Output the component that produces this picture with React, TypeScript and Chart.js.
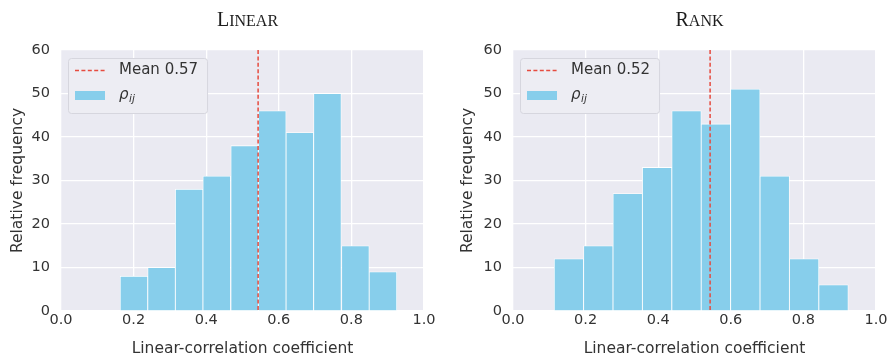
import React, { useEffect, useRef } from "react";
import { Chart, registerables } from "chart.js";

Chart.register(...registerables);

// ---- data ----
const linearBinCenters = [0.201, 0.277, 0.353, 0.429, 0.506, 0.582, 0.658, 0.734, 0.811, 0.887];
const linearCounts = [8, 10, 28, 31, 38, 46, 41, 50, 15, 9];
const linearMeanPosition = 0.543;
const linearMeanLabel = "Mean 0.57";
const linearTitle = "Linear";

const rankBinCenters = [0.154, 0.235, 0.316, 0.397, 0.478, 0.559, 0.64, 0.721, 0.802, 0.883];
const rankCounts = [12, 15, 27, 33, 46, 43, 51, 31, 12, 6];
const rankMeanPosition = 0.543;
const rankMeanLabel = "Mean 0.52";
const rankTitle = "Rank";

const xTickValues = [0, 0.2, 0.4, 0.6, 0.8, 1.0];
const yTickValues = [0, 10, 20, 30, 40, 50, 60];
const xAxisLabel = "Linear-correlation coefficient";
const yAxisLabel = "Relative frequency";
const seriesSymbol = "ρ";
const seriesSubscript = "ij";

// ---- styles ----
const BAR_COLOR = "#87CEEB";
const MEAN_COLOR = "#E64B3F";
const BG = "#EAEAF2";
const TEXT = "#333333";
const SANS = '"DejaVu Sans", sans-serif';
const SERIF = '"Liberation Serif", serif';

function drawSmallCaps(ctx: CanvasRenderingContext2D, text: string, cx: number, baseline: number) {
  const first = text.charAt(0).toUpperCase();
  const rest = text.slice(1).toUpperCase();
  const bigFont = `20px ${SERIF}`;
  const smallFont = `16px ${SERIF}`;
  ctx.font = bigFont;
  const w1 = ctx.measureText(first).width;
  ctx.font = smallFont;
  const w2 = ctx.measureText(rest).width;
  const x0 = cx - (w1 + w2) / 2;
  ctx.fillStyle = "#1c1c1c";
  ctx.textBaseline = "alphabetic";
  ctx.textAlign = "left";
  ctx.font = bigFont;
  ctx.fillText(first, x0, baseline);
  ctx.font = smallFont;
  ctx.fillText(rest, x0 + w1, baseline);
}

function makePlugin(title: string, meanPos: number, meanLabel: string) {
  return {
    id: "histDecor",
    beforeDraw(chart: any) {
      const { ctx, chartArea: a } = chart;
      ctx.save();
      ctx.fillStyle = BG;
      ctx.fillRect(a.left, a.top, a.right - a.left, a.bottom - a.top);
      ctx.restore();
    },
    afterDatasetsDraw(chart: any) {
      const { ctx, chartArea: a } = chart;
      const xs = chart.scales.x;
      const mx = xs.getPixelForValue(meanPos);
      ctx.save();
      // mean line
      ctx.strokeStyle = MEAN_COLOR;
      ctx.lineWidth = 1.5;
      ctx.setLineDash([4, 2.4]);
      ctx.beginPath();
      ctx.moveTo(mx, a.top);
      ctx.lineTo(mx, a.bottom);
      ctx.stroke();
      ctx.setLineDash([]);

      // legend
      const x0 = a.left + 7;
      const y0 = a.top + 8;
      ctx.font = `15px ${SANS}`;
      const tw = ctx.measureText(meanLabel).width;
      const w = 51 + tw + 9;
      const h = 55;
      ctx.beginPath();
      (ctx as any).roundRect(x0 + 0.5, y0 + 0.5, w, h, 3);
      ctx.fillStyle = "#EDEDF3";
      ctx.fill();
      ctx.strokeStyle = "#D6D6DE";
      ctx.lineWidth = 1;
      ctx.stroke();

      ctx.strokeStyle = MEAN_COLOR;
      ctx.lineWidth = 1.5;
      ctx.setLineDash([4, 2.4]);
      ctx.beginPath();
      ctx.moveTo(x0 + 7, y0 + 12.5);
      ctx.lineTo(x0 + 37, y0 + 12.5);
      ctx.stroke();
      ctx.setLineDash([]);

      ctx.fillStyle = TEXT;
      ctx.textAlign = "left";
      ctx.textBaseline = "middle";
      ctx.fillText(meanLabel, x0 + 51, y0 + 12.5);

      ctx.fillStyle = BAR_COLOR;
      ctx.fillRect(x0 + 7, y0 + 33, 30, 9);

      ctx.fillStyle = TEXT;
      ctx.textBaseline = "alphabetic";
      ctx.font = `italic 15px ${SANS}`;
      ctx.fillText(seriesSymbol, x0 + 51, y0 + 41);
      const rw = ctx.measureText(seriesSymbol).width;
      ctx.font = `italic 10.5px ${SANS}`;
      ctx.fillText(seriesSubscript, x0 + 51 + rw + 0.5, y0 + 44);
      ctx.restore();
    },
    afterDraw(chart: any) {
      const { ctx, chartArea: a } = chart;
      ctx.save();
      drawSmallCaps(ctx, title, (a.left + a.right) / 2 + 5, 26);
      ctx.restore();
    },
  };
}

function makeConfig(
  centers: number[],
  counts: number[],
  title: string,
  meanPos: number,
  meanLabel: string,
  padLeft: number,
  yWidth: number,
  padRight: number
): any {
  return {
    type: "bar",
    data: {
      datasets: [
        {
          label: seriesSymbol + seriesSubscript,
          data: centers.map((c, i) => ({ x: c, y: counts[i] })),
          backgroundColor: BAR_COLOR,
          borderColor: "#FFFFFF",
          borderWidth: 0.8,
          barPercentage: 1,
          categoryPercentage: 1,
        },
      ],
    },
    options: {
      responsive: false,
      animation: false,
      devicePixelRatio: 1,
      layout: { padding: { left: padLeft, right: padRight, top: 50, bottom: 0 } },
      plugins: {
        legend: { display: false },
        title: { display: false },
        tooltip: { enabled: false },
      },
      scales: {
        x: {
          type: "linear",
          min: 0,
          max: 1,
          offset: false,
          afterBuildTicks: (s: any) => {
            s.ticks = xTickValues.map((v) => ({ value: v }));
          },
          afterFit: (s: any) => {
            s.height = 45;
          },
          grid: { color: "#FFFFFF", lineWidth: 1.3, drawTicks: false, offset: false },
          border: { display: false },
          ticks: {
            padding: 1,
            color: TEXT,
            font: { family: SANS, size: 14.5 },
            maxRotation: 0,
            callback: (v: any) => Number(v).toFixed(1),
          },
          title: {
            display: true,
            text: xAxisLabel,
            color: TEXT,
            font: { family: SANS, size: 15.5 },
            padding: { top: 0, bottom: -2 },
          },
        },
        y: {
          type: "linear",
          min: 0,
          max: 60,
          afterBuildTicks: (s: any) => {
            s.ticks = yTickValues.map((v) => ({ value: v }));
          },
          afterFit: (s: any) => {
            s.width = yWidth;
          },
          grid: { color: "#FFFFFF", lineWidth: 1.3, drawTicks: false },
          border: { display: false },
          ticks: {
            padding: 11,
            color: TEXT,
            font: { family: SANS, size: 14.5 },
          },
          title: {
            display: true,
            text: yAxisLabel,
            color: TEXT,
            font: { family: SANS, size: 15.5 },
            padding: { top: 9, bottom: 0 },
          },
        },
      },
    },
    plugins: [makePlugin(title, meanPos, meanLabel)],
  };
}

function HistChart(props: { config: any; left: number; width: number }) {
  const ref = useRef<HTMLCanvasElement | null>(null);
  useEffect(() => {
    if (!ref.current) return;
    const chart = new Chart(ref.current, props.config);
    return () => chart.destroy();
  }, []);
  return (
    <canvas
      ref={ref}
      width={props.width}
      height={356}
      style={{ position: "absolute", left: props.left, top: 0, width: props.width, height: 356 }}
    />
  );
}

export default function App() {
  const leftConfig = makeConfig(
    linearBinCenters,
    linearCounts,
    linearTitle,
    linearMeanPosition,
    linearMeanLabel,
    0,
    61,
    21
  );
  const rightConfig = makeConfig(
    rankBinCenters,
    rankCounts,
    rankTitle,
    rankMeanPosition,
    rankMeanLabel,
    5,
    63,
    15
  );
  return (
    <div
      style={{
        position: "fixed",
        left: 0,
        top: 0,
        width: 891,
        height: 356,
        background: "#FFFFFF",
        overflow: "hidden",
      }}
    >
      <HistChart config={leftConfig} left={0} width={445} />
      <HistChart config={rightConfig} left={445} width={446} />
    </div>
  );
}
